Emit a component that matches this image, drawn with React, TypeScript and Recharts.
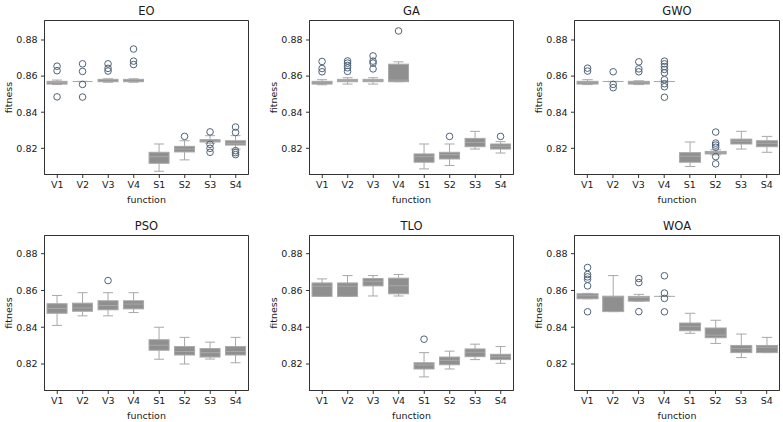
import { ComposedChart, Bar, XAxis, YAxis, ReferenceArea } from "recharts";

const CATEGORIES = ["V1", "V2", "V3", "V4", "S1", "S2", "S3", "S4"];
const Y_TICKS = [0.82, 0.84, 0.86, 0.88];

// each row: [whisker low, q1, median, q3, whisker high]
const EO_BOX = [
  [0.8553, 0.8556, 0.8565, 0.8571, 0.8578],
  [0.8569, 0.857, 0.857, 0.857, 0.8571],
  [0.8566, 0.8569, 0.8572, 0.8582, 0.8585],
  [0.8566, 0.8569, 0.8572, 0.8582, 0.8585],
  [0.8073, 0.8117, 0.8154, 0.8178, 0.8224],
  [0.8136, 0.818, 0.8196, 0.8211, 0.8242],
  [0.8228, 0.8235, 0.824, 0.8248, 0.827],
  [0.8196, 0.8218, 0.8228, 0.8242, 0.827],
];
const EO_OUT = [
  [0.8655, 0.863, 0.8485],
  [0.8668, 0.8626, 0.8554, 0.8484],
  [0.8668, 0.8643, 0.8628],
  [0.875, 0.8683, 0.8664],
  [],
  [0.8266],
  [0.8291, 0.8222, 0.82, 0.8178],
  [0.8318, 0.8288, 0.8187, 0.8176, 0.8165],
];

const GA_BOX = [
  [0.8552, 0.8556, 0.8563, 0.8571, 0.858],
  [0.8556, 0.8569, 0.8575, 0.8582, 0.8591],
  [0.8556, 0.8569, 0.8575, 0.8582, 0.8591],
  [0.8569, 0.8569, 0.8578, 0.8666, 0.8679],
  [0.8086, 0.8123, 0.8154, 0.8169, 0.8224],
  [0.8105, 0.8141, 0.8165, 0.8178, 0.8224],
  [0.8196, 0.8209, 0.8233, 0.8255, 0.8294],
  [0.8174, 0.8196, 0.8211, 0.8224, 0.8237],
];
const GA_OUT = [
  [0.8681, 0.8642, 0.8624],
  [0.8684, 0.8672, 0.8659, 0.8646, 0.8626],
  [0.8712, 0.8683, 0.8672, 0.864],
  [0.885],
  [],
  [0.8266],
  [],
  [0.8266],
];

const GWO_BOX = [
  [0.8553, 0.8556, 0.8563, 0.8571, 0.858],
  [0.8569, 0.857, 0.857, 0.857, 0.8571],
  [0.8553, 0.8556, 0.8563, 0.8571, 0.8574],
  [0.8569, 0.857, 0.857, 0.857, 0.8571],
  [0.8099, 0.8123, 0.8156, 0.8176, 0.8235],
  [0.8164, 0.8169, 0.8176, 0.8183, 0.8192],
  [0.8196, 0.8224, 0.8239, 0.8251, 0.8294],
  [0.8178, 0.8209, 0.8228, 0.8242, 0.8266],
];
const GWO_OUT = [
  [0.8644, 0.8628],
  [0.8624, 0.8554, 0.8536],
  [0.8679, 0.864, 0.8624],
  [0.8683, 0.8668, 0.8653, 0.8637, 0.8618, 0.858, 0.8558, 0.8541, 0.8483],
  [],
  [0.829, 0.8229, 0.8218, 0.8206, 0.8154, 0.8114],
  [],
  [],
];

const PSO_BOX = [
  [0.841, 0.8476, 0.8502, 0.8528, 0.8573],
  [0.8462, 0.8487, 0.8505, 0.8531, 0.8588],
  [0.8462, 0.8495, 0.8518, 0.8544, 0.8588],
  [0.848, 0.85, 0.8526, 0.8544, 0.8588],
  [0.8226, 0.8275, 0.8302, 0.8332, 0.84],
  [0.82, 0.8249, 0.8268, 0.8295, 0.8345],
  [0.8227, 0.8238, 0.8262, 0.8284, 0.8319],
  [0.8207, 0.8249, 0.8268, 0.8295, 0.8345],
];
const PSO_OUT = [[], [], [0.8654], [], [], [], [], []];

const TLO_BOX = [
  [0.8568, 0.8568, 0.8623, 0.8641, 0.8663],
  [0.8568, 0.8568, 0.8623, 0.8641, 0.8681],
  [0.857, 0.8625, 0.865, 0.8665, 0.8681],
  [0.857, 0.8582, 0.8626, 0.8667, 0.8687],
  [0.813, 0.8173, 0.8195, 0.8207, 0.8262],
  [0.8173, 0.8196, 0.822, 0.8238, 0.827],
  [0.8224, 0.824, 0.8264, 0.8282, 0.8308],
  [0.8204, 0.8224, 0.824, 0.8253, 0.8295],
];
const TLO_OUT = [[], [], [], [], [0.8335], [], [], []];

const WOA_BOX = [
  [0.8555, 0.8555, 0.8571, 0.8582, 0.8584],
  [0.8485, 0.8485, 0.8565, 0.8569, 0.8681],
  [0.8542, 0.8542, 0.8561, 0.8568, 0.8579],
  [0.8567, 0.8568, 0.8568, 0.8568, 0.8569],
  [0.8367, 0.8381, 0.8405, 0.8423, 0.8476],
  [0.8312, 0.8343, 0.8357, 0.8396, 0.8438],
  [0.8235, 0.8262, 0.8284, 0.8301, 0.8363],
  [0.8262, 0.8262, 0.8291, 0.8301, 0.8345],
];
const WOA_OUT = [
  [0.8725, 0.8687, 0.8674, 0.8661, 0.8625, 0.8484],
  [],
  [0.8665, 0.8643, 0.8485],
  [0.868, 0.8586, 0.8557, 0.8484],
  [],
  [],
  [],
  [],
];

const FILL = "#8f8f8f";
const LINE = "#a8a8a8";
const FLIER = "#4f6378";
const FRAME = "#333333";
const TEXT = "#1a1a1a";
const FONT = "'DejaVu Sans', sans-serif";

const AXIS_W = 44;
const X_AXIS_H = 37;

const TOP_DOMAIN = [0.8055, 0.8908];
const BOTTOM_DOMAIN = [0.8056, 0.8899];

const PANELS = [
  { title: "EO", box: EO_BOX, out: EO_OUT, left: 0, top: 0, w: 204, h: 154, domain: TOP_DOMAIN },
  { title: "GA", box: GA_BOX, out: GA_OUT, left: 265, top: 0, w: 204, h: 154, domain: TOP_DOMAIN },
  { title: "GWO", box: GWO_BOX, out: GWO_OUT, left: 530, top: 0, w: 205, h: 154, domain: TOP_DOMAIN },
  { title: "PSO", box: PSO_BOX, out: PSO_OUT, left: 0, top: 215, w: 204, h: 155, domain: BOTTOM_DOMAIN },
  { title: "TLO", box: TLO_BOX, out: TLO_OUT, left: 265, top: 215, w: 204, h: 155, domain: BOTTOM_DOMAIN },
  { title: "WOA", box: WOA_BOX, out: WOA_OUT, left: 530, top: 215, w: 205, h: 155, domain: BOTTOM_DOMAIN },
];

// bar spans lowest..highest point, everything else is placed linearly inside it
function BoxShape(props: any) {
  const { x, y, width, height, payload } = props;
  const [lo, hi] = payload.span;
  const k = height / (hi - lo);
  const py = (v: number) => y + (hi - v) * k;
  const cx = x + width / 2;
  const [wl, q1, med, q3, wh] = payload.stats;
  const cap = width / 4;
  return (
    <g>
      <line x1={cx} x2={cx} y1={py(wh)} y2={py(q3)} stroke={LINE} />
      <line x1={cx} x2={cx} y1={py(q1)} y2={py(wl)} stroke={LINE} />
      <line x1={cx - cap} x2={cx + cap} y1={py(wh)} y2={py(wh)} stroke={LINE} />
      <line x1={cx - cap} x2={cx + cap} y1={py(wl)} y2={py(wl)} stroke={LINE} />
      <rect
        x={x}
        y={py(q3)}
        width={width}
        height={Math.max(py(q1) - py(q3), 0)}
        fill={FILL}
        stroke={LINE}
        strokeWidth={1}
      />
      <line x1={x} x2={x + width} y1={py(med)} y2={py(med)} stroke={LINE} />
      {payload.out.map((v: number, i: number) => (
        <circle key={i} cx={cx} cy={py(v)} r={3.3} fill="none" stroke={FLIER} strokeWidth={1} />
      ))}
    </g>
  );
}

function Panel({ p }: { p: (typeof PANELS)[number] }) {
  const rows = CATEGORIES.map((name, i) => {
    const stats = p.box[i];
    const out = p.out[i];
    const all = [...stats, ...out];
    return { name, stats, out, span: [Math.min(...all), Math.max(...all)] };
  });

  const xLabel = (lp: any) => {
    const vb = lp.viewBox;
    return (
      <text x={vb.x + vb.width / 2} y={vb.y + 28} textAnchor="middle" fontSize={9.5} fill={TEXT}>
        function
      </text>
    );
  };
  const yLabel = (lp: any) => {
    const vb = lp.viewBox;
    const cx = vb.x + 8;
    const cy = vb.y + vb.height / 2;
    return (
      <text
        x={cx}
        y={cy}
        transform={`rotate(-90 ${cx} ${cy})`}
        textAnchor="middle"
        dominantBaseline="central"
        fontSize={9.5}
        fill={TEXT}
      >
        fitness
      </text>
    );
  };

  return (
    <div style={{ position: "absolute", left: p.left, top: p.top }}>
      <div
        style={{
          position: "absolute",
          left: AXIS_W + 0.5,
          top: 6,
          width: p.w,
          textAlign: "center",
          fontSize: 11.5,
          lineHeight: "11.5px",
          color: TEXT,
          whiteSpace: "nowrap",
        }}
      >
        {p.title}
      </div>
      <ComposedChart
        width={AXIS_W + p.w + 4.5}
        height={20.5 + p.h + X_AXIS_H}
        data={rows}
        margin={{ top: 20.5, right: 4, bottom: 0, left: 0.5 }}
        barCategoryGap="10%"
      >
        <XAxis
          dataKey="name"
          height={X_AXIS_H}
          interval={0}
          tickSize={3.5}
          tickMargin={3}
          tick={{ fontSize: 9.5, fill: TEXT }}
          tickLine={{ stroke: FRAME }}
          axisLine={{ stroke: FRAME }}
          label={xLabel}
        />
        <YAxis
          type="number"
          width={AXIS_W}
          domain={p.domain}
          allowDataOverflow
          ticks={Y_TICKS}
          tickFormatter={(v: number) => v.toFixed(2)}
          tickSize={3.5}
          tickMargin={3.5}
          tick={{ fontSize: 9.5, fill: TEXT }}
          tickLine={{ stroke: FRAME }}
          axisLine={{ stroke: FRAME }}
          label={yLabel}
        />
        <Bar dataKey="span" shape={BoxShape} isAnimationActive={false} />
        <ReferenceArea
          y1={p.domain[0]}
          y2={p.domain[1]}
          fill="none"
          fillOpacity={0}
          stroke={FRAME}
          strokeOpacity={1}
          strokeWidth={1}
          ifOverflow="visible"
        />
      </ComposedChart>
    </div>
  );
}

export default function App() {
  return (
    <div
      style={{
        position: "absolute",
        left: 0,
        top: 0,
        width: 783,
        height: 422,
        background: "#ffffff",
        fontFamily: FONT,
      }}
    >
      {PANELS.map((p) => (
        <Panel key={p.title} p={p} />
      ))}
    </div>
  );
}
